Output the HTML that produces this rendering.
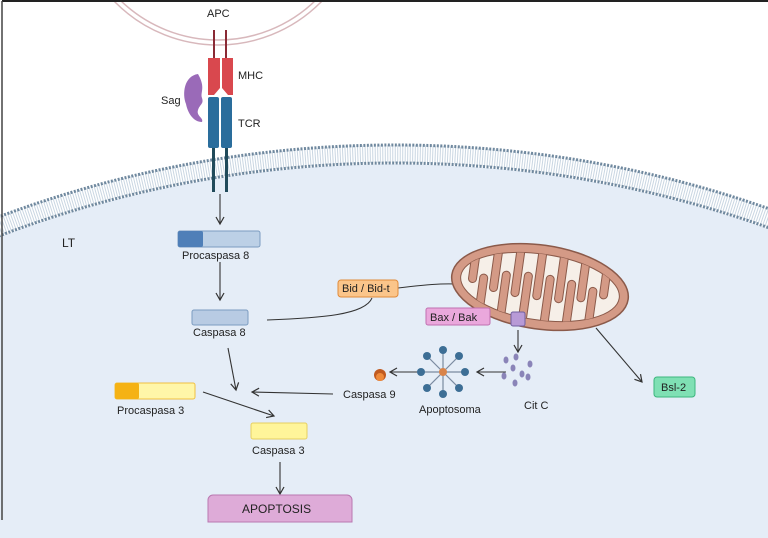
<!DOCTYPE html>
<html><head><meta charset="utf-8"><style>
html,body{margin:0;padding:0;background:#fff;width:768px;height:538px;overflow:hidden}
svg{display:block}
text{font-family:"Liberation Sans",sans-serif;font-size:11px;fill:#222}
</style></head><body>
<svg width="768" height="538" viewBox="0 0 768 538" xmlns="http://www.w3.org/2000/svg">
<defs>
<marker id="ah" markerWidth="10" markerHeight="10" refX="8" refY="5" orient="auto" markerUnits="userSpaceOnUse">
<path d="M1,1 L8,5 L1,9" fill="none" stroke="#333" stroke-width="1.2"/></marker>
<clipPath id="cp"><rect x="0" y="0" width="768" height="538"/></clipPath>
<clipPath id="mc"><ellipse cx="540" cy="287" rx="80" ry="33"/></clipPath>
</defs>
<rect width="768" height="538" fill="#fff"/>
<g clip-path="url(#cp)">
<circle cx="395" cy="1274" r="1110" fill="#e5edf7"/>
<rect x="0" y="520" width="768" height="18" fill="#e5edf7"/>
<circle cx="395" cy="1274" r="1120" fill="none" stroke="#c9d6e2" stroke-width="18" stroke-dasharray="1 1.5"/>
<circle cx="395" cy="1274" r="1129" fill="none" stroke="#6f889e" stroke-width="3" stroke-dasharray="2 1.5"/>
<circle cx="395" cy="1274" r="1111" fill="none" stroke="#6f889e" stroke-width="3" stroke-dasharray="2 1.5"/>
<circle cx="218" cy="-100" r="145" fill="#fff" stroke="#d8b8bc" stroke-width="1.5"/>
<circle cx="218" cy="-100" r="140" fill="none" stroke="#d8b8bc" stroke-width="1.5"/>
</g>
<line x1="2" y1="1" x2="768" y2="1" stroke="#222" stroke-width="2"/>
<line x1="2" y1="1" x2="2" y2="520" stroke="#444" stroke-width="1.5"/>
<text x="207" y="17">APC</text>
<rect x="213" y="30" width="2" height="30" fill="#8a2a35"/>
<rect x="225" y="30" width="2" height="30" fill="#8a2a35"/>
<path d="M208,58 h12 v30 l-6,7 h-6z" fill="#d9484e"/>
<path d="M222,58 h11 v37 h-5 l-6,-7z" fill="#d9484e"/>
<rect x="208" y="97" width="11" height="51" rx="2" fill="#2a6d9c"/>
<rect x="221" y="97" width="11" height="51" rx="2" fill="#2a6d9c"/>
<rect x="212" y="148" width="3" height="44" fill="#204a5a"/>
<rect x="225" y="148" width="3" height="44" fill="#204a5a"/>
<path d="M198,74 c-14,2 -16,20 -12,30 c2,10 8,18 16,18 c2,-4 -6,-6 -4,-12 c2,-6 6,-6 4,-12 c-2,-6 4,-10 -4,-24z" fill="#9a6ab8"/>
<text x="238" y="79">MHC</text>
<text x="161" y="104">Sag</text>
<text x="238" y="127">TCR</text>
<text x="62" y="247" style="font-size:12px">LT</text>
<g stroke="#333" stroke-width="1.1" fill="none" marker-end="url(#ah)">
<line x1="220" y1="194" x2="220" y2="224"/>
<line x1="220" y1="262" x2="220" y2="300"/>
<line x1="228" y1="348" x2="236" y2="390"/>
<line x1="203" y1="392" x2="274" y2="416"/>
<line x1="333" y1="394" x2="252" y2="392"/>
<line x1="280" y1="462" x2="280" y2="494"/>
<line x1="418" y1="372" x2="390" y2="372"/>
<line x1="506" y1="372" x2="477" y2="372"/>
<line x1="518" y1="330" x2="518" y2="352"/>
<line x1="596" y1="328" x2="642" y2="382"/>
</g>
<path d="M267,320 C320,318 365,315 372,298" stroke="#333" fill="none" stroke-width="1"/>
<path d="M398,288 C430,284 455,282 472,286" stroke="#333" fill="none" stroke-width="1"/>
<rect x="178" y="231" width="82" height="16" rx="2" fill="#bcd0e6" stroke="#7c9cc0"/>
<rect x="178" y="231" width="25" height="16" rx="2" fill="#4f7fb8"/>
<text x="182" y="259">Procaspasa 8</text>
<rect x="192" y="310" width="56" height="15" rx="2" fill="#b8cbe3" stroke="#7c9cc0"/>
<text x="193" y="336">Caspasa 8</text>
<rect x="115" y="383" width="80" height="16" rx="2" fill="#fff6a8" stroke="#f0c040"/>
<rect x="115" y="383" width="24" height="16" rx="2" fill="#f5b214"/>
<text x="117" y="414">Procaspasa 3</text>
<rect x="251" y="423" width="56" height="16" rx="2" fill="#fff59a" stroke="#e6d060"/>
<text x="252" y="454">Caspasa 3</text>
<path d="M208,522 v-22 a5,5 0 0 1 5,-5 h134 a5,5 0 0 1 5,5 v22z" fill="#deabd8" stroke="#b978b0"/>
<text x="242" y="513" style="font-size:12px">APOPTOSIS</text>
<g transform="rotate(8 540 287)">
<ellipse cx="540" cy="287" rx="89" ry="42" fill="#d49a86" stroke="#8b5a4a" stroke-width="1.5"/>
<ellipse cx="540" cy="287" rx="80" ry="33" fill="#f6efe8" stroke="#8b5a4a" stroke-width="1"/>
<g clip-path="url(#mc)" fill="#d49a86" stroke="#8b5a4a" stroke-width="1">
<rect x="468" y="240" width="8" height="52" rx="4"/>
<rect x="490" y="240" width="8" height="58" rx="4"/>
<rect x="512" y="240" width="8" height="60" rx="4"/>
<rect x="534" y="240" width="8" height="60" rx="4"/>
<rect x="556" y="240" width="8" height="60" rx="4"/>
<rect x="578" y="240" width="8" height="56" rx="4"/>
<rect x="600" y="240" width="8" height="50" rx="4"/>
<rect x="479" y="282" width="8" height="60" rx="4"/>
<rect x="501" y="276" width="8" height="60" rx="4"/>
<rect x="523" y="274" width="8" height="60" rx="4"/>
<rect x="545" y="274" width="8" height="60" rx="4"/>
<rect x="567" y="276" width="8" height="60" rx="4"/>
<rect x="589" y="280" width="8" height="60" rx="4"/>
</g>
</g>
<rect x="426" y="308" width="64" height="17" rx="2" fill="#eaa8dc" stroke="#c070b0"/>
<text x="430" y="321">Bax / Bak</text>
<rect x="511" y="312" width="14" height="14" rx="2" fill="#b89ad6" stroke="#7060a0"/>
<rect x="338" y="280" width="60" height="17" rx="3" fill="#fbc58a" stroke="#e08a3a"/>
<text x="342" y="292">Bid / Bid-t</text>
<g fill="#8a84b8">
<ellipse cx="506" cy="360" rx="2.5" ry="3.5"/><ellipse cx="516" cy="357" rx="2.5" ry="3.5"/>
<ellipse cx="513" cy="368" rx="2.5" ry="3.5"/><ellipse cx="504" cy="376" rx="2.5" ry="3.5"/>
<ellipse cx="515" cy="383" rx="2.5" ry="3.5"/><ellipse cx="530" cy="364" rx="2.5" ry="3.5"/>
<ellipse cx="528" cy="377" rx="2.5" ry="3.5"/><ellipse cx="522" cy="374" rx="2.5" ry="3.5"/>
</g>
<text x="524" y="409">Cit C</text>
<g stroke="#7a8aa0" stroke-width="1.2">
<line x1="443" y1="372" x2="443" y2="352"/><line x1="443" y1="372" x2="458" y2="357"/>
<line x1="443" y1="372" x2="464" y2="372"/><line x1="443" y1="372" x2="458" y2="387"/>
<line x1="443" y1="372" x2="443" y2="392"/><line x1="443" y1="372" x2="428" y2="387"/>
<line x1="443" y1="372" x2="422" y2="372"/><line x1="443" y1="372" x2="428" y2="357"/>
</g>
<g fill="#3d6e95">
<circle cx="443" cy="350" r="4"/><circle cx="459" cy="356" r="4"/><circle cx="465" cy="372" r="4"/>
<circle cx="459" cy="388" r="4"/><circle cx="443" cy="394" r="4"/><circle cx="427" cy="388" r="4"/>
<circle cx="421" cy="372" r="4"/><circle cx="427" cy="356" r="4"/>
</g>
<circle cx="443" cy="372" r="4" fill="#d9844a"/>
<text x="419" y="413">Apoptosoma</text>
<circle cx="380" cy="375" r="6" fill="#c05a20"/><circle cx="380" cy="377" r="4" fill="#ef8a3a"/>
<text x="343" y="398">Caspasa 9</text>
<rect x="654" y="377" width="41" height="20" rx="3" fill="#7fe0b4" stroke="#3cb67e"/>
<text x="661" y="391">Bsl-2</text>
</svg>
</body></html>
